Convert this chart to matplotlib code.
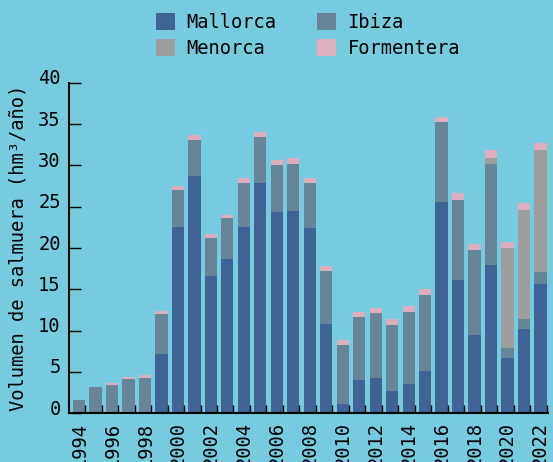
import numpy as np
import matplotlib.pyplot as plt
from matplotlib.transforms import ScaledTranslation

# Brine volume per island (hm3/year)
years = list(range(1994, 2023))
mallorca = [0, 0, 0, 0, 0, 7.2, 22.5, 28.7, 16.6, 18.7, 22.6, 27.9, 24.4, 24.5, 22.4,
            10.8, 1.1, 4.0, 4.3, 2.7, 3.5, 5.1, 25.6, 16.1, 9.5, 17.9, 6.7, 10.2, 15.6]
ibiza = [1.6, 3.2, 3.4, 4.1, 4.3, 4.8, 4.5, 4.4, 4.6, 4.9, 5.3, 5.5, 5.7, 5.7, 5.5,
         6.4, 7.15, 7.6, 7.8, 7.95, 8.75, 9.2, 9.6, 9.75, 10.2, 12.3, 1.2, 1.15, 1.45]
menorca = [0] * 25 + [0.7, 12.05, 13.3, 14.85]
formentera = [0, 0, 0.25, 0.35, 0.35, 0.35, 0.45, 0.6, 0.5, 0.45, 0.6, 0.6, 0.6, 0.7, 0.6,
              0.6, 0.6, 0.7, 0.7, 0.75, 0.7, 0.8, 0.7, 0.75, 0.75, 1.0, 0.75, 0.85, 0.85]

series = [("Mallorca", mallorca, "#3e6496"),
          ("Ibiza", ibiza, "#668596"),
          ("Menorca", menorca, "#9e9e9e"),
          ("Formentera", formentera, "#ddaebe")]

bg = "#77cbde"
plt.rcParams['font.family'] = ['DejaVu Sans Mono']
plt.rcParams['font.size'] = 13.5

fig = plt.figure(figsize=(5.53, 4.62), dpi=100, facecolor=bg)
ax = fig.add_axes([0.1248, 0.1054, 0.991 - 0.1248, 0.821 - 0.1054])
ax.set_facecolor(bg)

bottom = np.zeros(len(years))
handles = {}
for name, vals, col in series:
    handles[name] = ax.bar(years, vals, width=0.75, bottom=bottom, color=col, linewidth=0)
    bottom += np.array(vals)

ax.set_xlim(1993.4, 2022.45)
ax.set_ylim(0, 40)
ax.set_yticks(range(0, 41, 5))
ax.tick_params(axis='y', direction='in', length=8.6, width=1, pad=6, colors='black')
ax.set_xticks(range(1994, 2023, 2))
ax.tick_params(axis='x', which='major', length=0, rotation=90, pad=6)
ax.set_xticks([y + 0.375 for y in years], minor=True)
ax.tick_params(axis='x', which='minor', direction='in', length=5.8, width=1)

# y labels sit slightly above their ticks in the original
offset = ScaledTranslation(0, 6 / 100, fig.dpi_scale_trans)
for lab in ax.get_yticklabels():
    lab.set_transform(lab.get_transform() + offset)

for s in ['top', 'right']:
    ax.spines[s].set_visible(False)
for s in ['left', 'bottom']:
    ax.spines[s].set_linewidth(1.5)

ax.set_ylabel("Volumen de salmuera (hm³/año)", labelpad=8)

# legend is filled row by row in the original
order = ["Mallorca", "Menorca", "Ibiza", "Formentera"]
fig.legend(handles=[handles[n] for n in order], labels=order, ncol=2, loc='upper center',
           bbox_to_anchor=(0.557, 1.0), frameon=False, handlelength=1.0, handleheight=1.0,
           handletextpad=0.6, columnspacing=2.2, labelspacing=0.35, borderaxespad=0.3)

fig.savefig("out.png", dpi=100, facecolor=bg)
